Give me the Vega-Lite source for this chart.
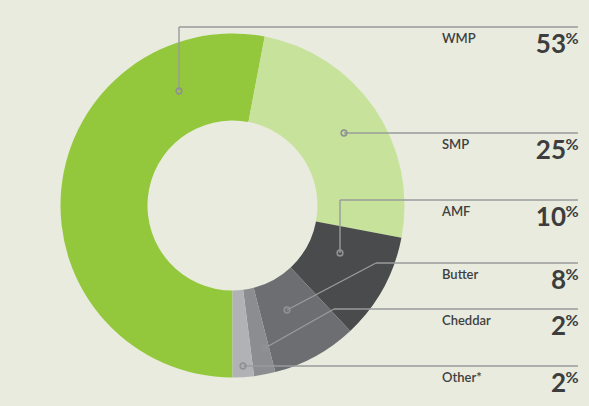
{
  "$schema": "https://vega.github.io/schema/vega-lite/v6.json",
  "width": 589,
  "height": 406,
  "padding": 0,
  "autosize": {"type": "none"},
  "background": "#e8ebde",
  "config": {"view": {"stroke": null}},
  "datasets": {
    "shares": [
      {"product": "WMP", "share": 53, "order": 1},
      {"product": "SMP", "share": 25, "order": 2},
      {"product": "AMF", "share": 10, "order": 3},
      {"product": "Butter", "share": 8, "order": 4},
      {"product": "Cheddar", "share": 2, "order": 5},
      {"product": "Other*", "share": 2, "order": 6}
    ],
    "leaders": [
      {"product": "WMP", "x": 179, "y": 91, "x2": 179, "y2": 27},
      {"product": "WMP", "x": 179, "y": 27, "x2": 578, "y2": 27},
      {"product": "SMP", "x": 344, "y": 133, "x2": 578, "y2": 133},
      {"product": "AMF", "x": 340, "y": 253, "x2": 340, "y2": 200},
      {"product": "AMF", "x": 340, "y": 200, "x2": 578, "y2": 200},
      {"product": "Butter", "x": 287, "y": 310, "x2": 376, "y2": 263},
      {"product": "Butter", "x": 376, "y": 263, "x2": 578, "y2": 263},
      {"product": "Cheddar", "x": 265, "y": 348, "x2": 334, "y2": 309},
      {"product": "Cheddar", "x": 334, "y": 309, "x2": 578, "y2": 309},
      {"product": "Other*", "x": 243, "y": 366, "x2": 578, "y2": 366}
    ],
    "anchors": [
      {"product": "WMP", "x": 179, "y": 91},
      {"product": "SMP", "x": 344, "y": 133},
      {"product": "AMF", "x": 340, "y": 253},
      {"product": "Butter", "x": 287, "y": 310},
      {"product": "Cheddar", "x": 265, "y": 348},
      {"product": "Other*", "x": 243, "y": 366}
    ],
    "labels": [
      {"product": "WMP", "pct": "53", "lineY": 27},
      {"product": "SMP", "pct": "25", "lineY": 133},
      {"product": "AMF", "pct": "10", "lineY": 200},
      {"product": "Butter", "pct": "8", "lineY": 263},
      {"product": "Cheddar", "pct": "2", "lineY": 309},
      {"product": "Other*", "pct": "2", "lineY": 366}
    ]
  },
  "layer": [
    {
      "data": {"name": "shares"},
      "mark": {"type": "arc", "innerRadius": 85, "outerRadius": 172},
      "encoding": {
        "theta": {"field": "share", "type": "quantitative", "stack": true, "scale": {"range": [3.14159, 9.42478]}},
        "order": {"field": "order", "type": "quantitative"},
        "color": {
          "field": "product", "type": "nominal", "legend": null,
          "scale": {
            "domain": ["WMP", "SMP", "AMF", "Butter", "Cheddar", "Other*"],
            "range": ["#94c83c", "#c7e29a", "#4a4b4d", "#6d6e72", "#8c8d91", "#b1b2b6"]
          }
        },
        "x": {"datum": 232.5, "type": "quantitative", "scale": {"domain": [0, 589], "nice": false, "zero": false}, "axis": null},
        "y": {"datum": 205.5, "type": "quantitative", "scale": {"domain": [0, 406], "nice": false, "zero": false, "reverse": true}, "axis": null}
      }
    },
    {
      "data": {"name": "leaders"},
      "mark": {"type": "rule", "color": "#9a9b9b", "strokeWidth": 1.4},
      "encoding": {
        "x": {"field": "x", "type": "quantitative", "axis": null},
        "y": {"field": "y", "type": "quantitative", "axis": null},
        "x2": {"field": "x2"},
        "y2": {"field": "y2"}
      }
    },
    {
      "data": {"name": "anchors"},
      "mark": {"type": "point", "filled": false, "size": 32, "stroke": "#909292", "strokeWidth": 1.6, "opacity": 1},
      "encoding": {
        "x": {"field": "x", "type": "quantitative", "axis": null},
        "y": {"field": "y", "type": "quantitative", "axis": null}
      }
    },
    {
      "data": {"name": "labels"},
      "mark": {"type": "text", "align": "left", "baseline": "alphabetic", "dy": 16, "font": "Lato", "fontSize": 13, "fontWeight": 600, "color": "#3f3f3f"},
      "encoding": {
        "x": {"datum": 442, "type": "quantitative", "axis": null},
        "y": {"field": "lineY", "type": "quantitative", "axis": null},
        "text": {"field": "product"}
      }
    },
    {
      "data": {"name": "labels"},
      "mark": {"type": "text", "align": "right", "baseline": "alphabetic", "dy": 26, "font": "Lato", "fontSize": 26, "fontWeight": "bold", "color": "#3d3d3d"},
      "encoding": {
        "x": {"datum": 566, "type": "quantitative", "axis": null},
        "y": {"field": "lineY", "type": "quantitative", "axis": null},
        "text": {"field": "pct"}
      }
    },
    {
      "data": {"name": "labels"},
      "mark": {"type": "text", "align": "left", "baseline": "alphabetic", "dy": 17, "font": "Lato", "fontSize": 16, "fontWeight": "bold", "color": "#3d3d3d", "text": "%"},
      "encoding": {
        "x": {"datum": 565.5, "type": "quantitative", "axis": null},
        "y": {"field": "lineY", "type": "quantitative", "axis": null}
      }
    }
  ]
}
